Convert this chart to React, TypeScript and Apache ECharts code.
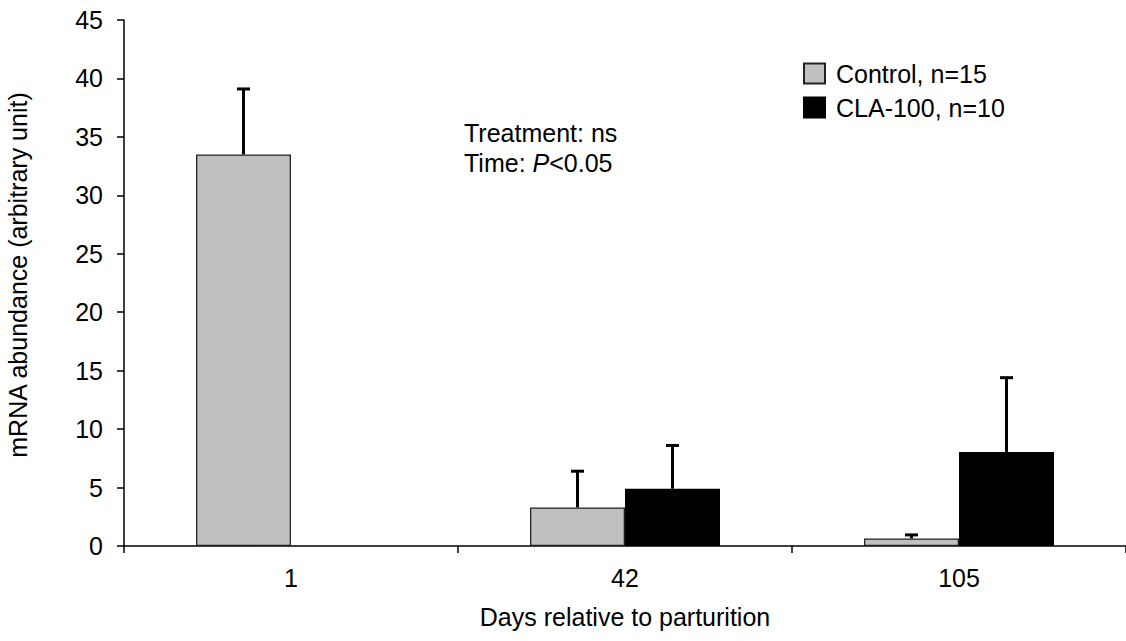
import React, { useEffect, useRef } from "react";
import * as echarts from "echarts";

const categories = ["1", "42", "105"];
const controlMean: (number | null)[] = [33.5, 3.3, 0.65];
const controlErr: (number | null)[] = [5.6, 3.1, 0.3];
const claMean: (number | null)[] = [null, 4.9, 8.05];
const claErr: (number | null)[] = [null, 3.7, 6.35];
const yTicks = { min: 0, max: 45, interval: 5 };
const seriesNames = ["Control, n=15", "CLA-100, n=10"];

const FONT = "'Liberation Sans', Arial, sans-serif";
const BAR_W = 95;
const FS = 25;

function errData(means: (number | null)[], errs: (number | null)[]) {
  const out: any[] = [];
  means.forEach((m, i) => {
    if (m != null && errs[i] != null) out.push([i, m, errs[i]]);
  });
  return out;
}

function errSeries(name: string, means: (number | null)[], errs: (number | null)[], side: number) {
  return {
    type: "custom",
    name: name + " err",
    z: 5,
    data: errData(means, errs),
    renderItem: (params: any, api: any) => {
      const i = api.value(0);
      const m = api.value(1);
      const e = api.value(2);
      const base = api.coord([i, m]);
      const top = api.coord([i, m + e]);
      const x = base[0] + side * BAR_W / 2;
      const half = 6.5;
      const st = { stroke: "#000", lineWidth: 3 };
      return {
        type: "group",
        children: [
          { type: "line", shape: { x1: x, y1: base[1], x2: x, y2: top[1] }, style: st },
          { type: "line", shape: { x1: x - half, y1: top[1], x2: x + half, y2: top[1] }, style: st },
        ],
      };
    },
  };
}

export default function App() {
  const ref = useRef<HTMLDivElement>(null);
  useEffect(() => {
    if (!ref.current) return;
    const chart = echarts.init(ref.current, undefined, { renderer: "svg" });
    chart.setOption({
      animation: false,
      backgroundColor: "#fff",
      textStyle: { fontFamily: FONT, color: "#000" },
      grid: { left: 124, right: 0, top: 20, bottom: 95 },
      legend: {
        data: seriesNames,
        orient: "vertical",
        left: 803,
        top: 61,
        itemWidth: 21,
        itemHeight: 20,
        itemGap: 9,
        padding: 0,
        icon: "rect",
        textStyle: { fontSize: FS, color: "#000", fontFamily: FONT, padding: [0, 0, 0, 6] },
      },
      xAxis: {
        type: "category",
        data: categories,
        boundaryGap: true,
        axisLine: { lineStyle: { color: "#000", width: 1.5 } },
        axisTick: { show: true, length: 7, inside: false, lineStyle: { color: "#000", width: 1.5 } },
        axisLabel: { fontSize: FS, color: "#000", fontFamily: FONT, margin: 19 },
        name: "Days relative to parturition",
        nameLocation: "middle",
        nameGap: 58,
        nameTextStyle: { fontSize: FS, color: "#000", fontFamily: FONT },
      },
      yAxis: {
        type: "value",
        min: yTicks.min,
        max: yTicks.max,
        interval: yTicks.interval,
        splitLine: { show: false },
        axisLine: { show: true, lineStyle: { color: "#000", width: 1.5 } },
        axisTick: { show: true, length: 7, inside: false, lineStyle: { color: "#000", width: 1.5 } },
        axisLabel: { fontSize: FS, color: "#000", fontFamily: FONT, margin: 21 },
      },
      graphic: [
        {
          type: "text",
          x: 18,
          y: 275,
          rotation: Math.PI / 2,
          style: {
            text: "mRNA abundance (arbitrary unit)",
            font: `${FS}px ${FONT}`,
            fill: "#000",
            textAlign: "center",
            textVerticalAlign: "middle",
          },
        },
        {
          type: "text",
          x: 464,
          y: 118,
          style: {
            text: "Treatment: ns\n{n|Time: }{i|P}{n|<0.05}",
            font: `${FS}px ${FONT}`,
            fill: "#000",
            lineHeight: 30,
            textVerticalAlign: "top",
            rich: {
              n: { fontSize: FS, fontFamily: FONT, fill: "#000", lineHeight: 30 },
              i: { fontSize: FS, fontFamily: FONT, fontStyle: "italic", fill: "#000", lineHeight: 30 },
            },
          },
        },
      ],
      series: [
        {
          type: "bar",
          name: seriesNames[0],
          data: controlMean,
          barWidth: BAR_W,
          barGap: "0%",
          itemStyle: { color: "#c0c0c0", borderColor: "#222", borderWidth: 1.3 },
        },
        {
          type: "bar",
          name: seriesNames[1],
          data: claMean,
          barWidth: BAR_W,
          barGap: "0%",
          itemStyle: { color: "#000", borderColor: "#000", borderWidth: 1.3 },
        },
        errSeries(seriesNames[0], controlMean, controlErr, -1),
        errSeries(seriesNames[1], claMean, claErr, 1),
      ],
    });
    return () => chart.dispose();
  }, []);
  return (
    <div
      ref={ref}
      style={{ position: "absolute", left: 0, top: 0, width: 1126, height: 641 }}
    />
  );
}
